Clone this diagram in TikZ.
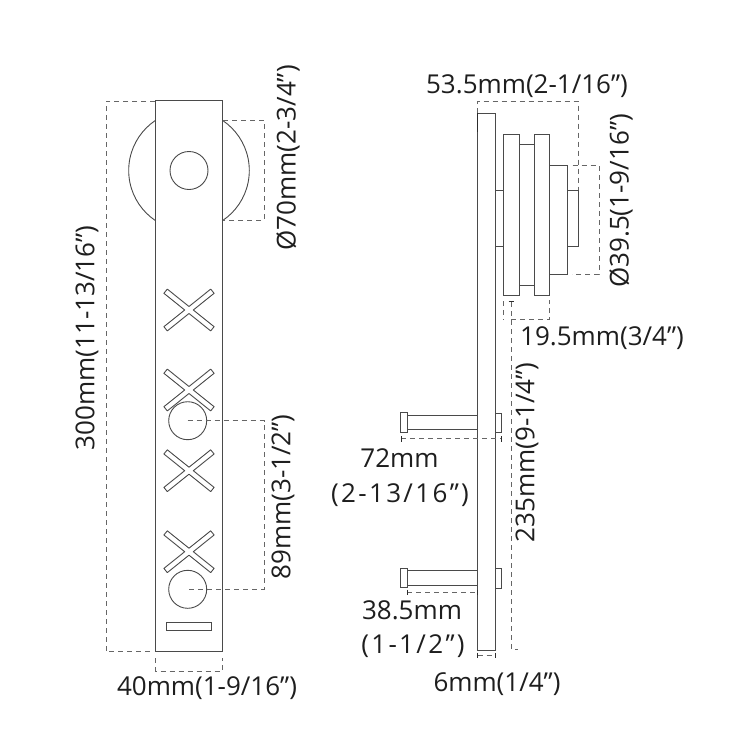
\documentclass[tikz,border=0pt]{standalone}
\usepackage{fontspec}
\setmainfont{Open Sans}
\definecolor{ink}{HTML}{4A4A4A}
\definecolor{dash}{HTML}{666666}
\definecolor{lab}{HTML}{1E1E1E}
\tikzset{
  part/.style={draw=ink,line width=0.9pt,fill=white,outer sep=0pt},
  dim/.style={draw=dash,line width=0.9pt,dash pattern=on 5pt off 4pt},
  tick/.style={draw=ink!60!black,line width=0.9pt},
  lbl/.style={text=lab,font=\fontsize{26}{26}\selectfont,inner sep=0pt,align=center},
  wide/.style={lbl,font=\fontsize{26}{26}\selectfont\addfontfeature{LetterSpace=9}},
  vlbl/.style={lbl,rotate=90}
}
\newcommand{\crossat}[2]{\draw[part,line join=round,shift={(#1,#2)}]
  (0,-3.5) -- (21.7,-20.9) -- (25.1,-16.7) -- (4.3,0) -- (25.1,16.7) -- (21.7,20.9) -- (0,3.5) --
  (-21.7,20.9) -- (-25.1,16.7) -- (-4.3,0) -- (-25.1,-16.7) -- (-21.7,-20.9) -- cycle;}
\begin{document}
\begin{tikzpicture}[x=1pt,y=-1pt]
\useasboundingbox[fill=white] (0,0) rectangle (750,750);
% front view
\draw[part] (189,170.5) circle[radius=60.3];
\node[part,minimum width=66.5pt,minimum height=551pt,inner sep=0pt,anchor=north west] (plate) at (155.5,100) {};
\node[part,circle,minimum size=38pt,inner sep=0pt] (wheelhub) at (189,170.5) {};
\crossat{189}{310}
\crossat{189}{390}
\crossat{189}{470.7}
\crossat{189}{551.7}
\node[part,circle,minimum size=38pt,inner sep=0pt] (holeA) at (187.7,420.7) {};
\node[part,circle,minimum size=38pt,inner sep=0pt] (holeB) at (187.7,589.3) {};
\node[part,minimum width=45.7pt,minimum height=8pt,inner sep=0pt] (slot) at (188.8,626) {};
% front dims
\coordinate (hA) at (holeA.center);
\coordinate (hB) at (holeB.center);
\draw[dim] (155,101) -- (106,101) -- (106,651.7) -- (152,651.7);
\draw[dim] (223,120.3) -- (264,120.3) -- (264,220.5) -- (223,220.5);
\draw[dim] (hA) -- (264,420.7) -- (264,589.3) -- (hB);
\draw[dim] (155.5,658) -- (155.5,671) -- (222,671) -- (222,658);
% side view
\draw[part] (477.7,113.3) rectangle (495,650);
\draw[part] (495,190.3) rectangle (503.7,246);
\draw[part] (503.7,134) rectangle (519.3,295.7);
\draw[part] (519.3,144.3) rectangle (534.3,285);
\draw[part] (534.3,134) rectangle (549.7,295.7);
\draw[part] (549.7,165.3) rectangle (567.3,274);
\draw[part] (567.3,190.3) rectangle (578.3,246);
% pins
\draw[part] (407.3,415) rectangle (477.7,429.3);
\draw[part] (400.7,412.7) rectangle (407.3,432);
\draw[part] (495,413.3) rectangle (501.3,432.7);
\draw[part] (407.3,570.3) rectangle (477.7,585);
\draw[part] (400.7,568.3) rectangle (407.3,587.3);
\draw[part] (495,568.3) rectangle (501.3,588);
% side dims
\draw[dim] (477.5,113) -- (477.5,101) -- (578,101) -- (578,190);
\draw[tick] (477.7,113) -- (477.7,132);
\draw[dim] (572.7,165.3) -- (599,165.3) -- (599,274) -- (572,274);
\draw[dim] (503.7,301) -- (503.7,319.5);
\draw[dim] (511,319.5) -- (549.7,319.5) -- (549.7,300);
\draw[dim] (511,302) -- (511,649) -- (518,649);
\draw[tick] (508.5,301) -- (513.5,301);
\draw[dim] (401,438.7) -- (501,438.7);
\draw[tick] (401,436) -- (401,441.5);
\draw[tick] (501,436) -- (501,441.5);
\draw[dim] (407.3,592.3) -- (477.7,592.3);
\draw[tick] (407.3,589.5) -- (407.3,595);
\draw[tick] (477.7,589.5) -- (477.7,595);
\draw[dim] (477.7,655) -- (495,655);
\draw[tick] (477.7,652.5) -- (477.7,657.5);
\draw[tick] (495,652.5) -- (495,657.5);
% labels
\node[vlbl] (l300) at (87,338) {300mm(11-13/16”)};
\node[vlbl] (l70) at (288,158) {Ø70mm(2-3/4”)};
\node[vlbl] (l89) at (283,497) {89mm(3-1/2”)};
\node[lbl] (l40) at (207,688.5) {40mm(1-9/16”)};
\node[lbl] (l535) at (527,86) {53.5mm(2-1/16”)};
\node[vlbl] (l395) at (621,201) {Ø39.5(1-9/16”)};
\node[lbl] (l195) at (602,338) {19.5mm(3/4”)};
\node[vlbl] (l235) at (527,452.5) {235mm(9-1/4”)};
\node[lbl] (l72) at (399.5,458.5) {72mm};
\node[wide] (l72b) at (400,495) {(2-13/16”)};
\node[lbl] (l385) at (412,610) {38.5mm};
\node[wide] (l385b) at (413,646) {(1-1/2”)};
\node[lbl] (l6) at (497,684) {6mm(1/4”)};
\end{tikzpicture}
\end{document}
